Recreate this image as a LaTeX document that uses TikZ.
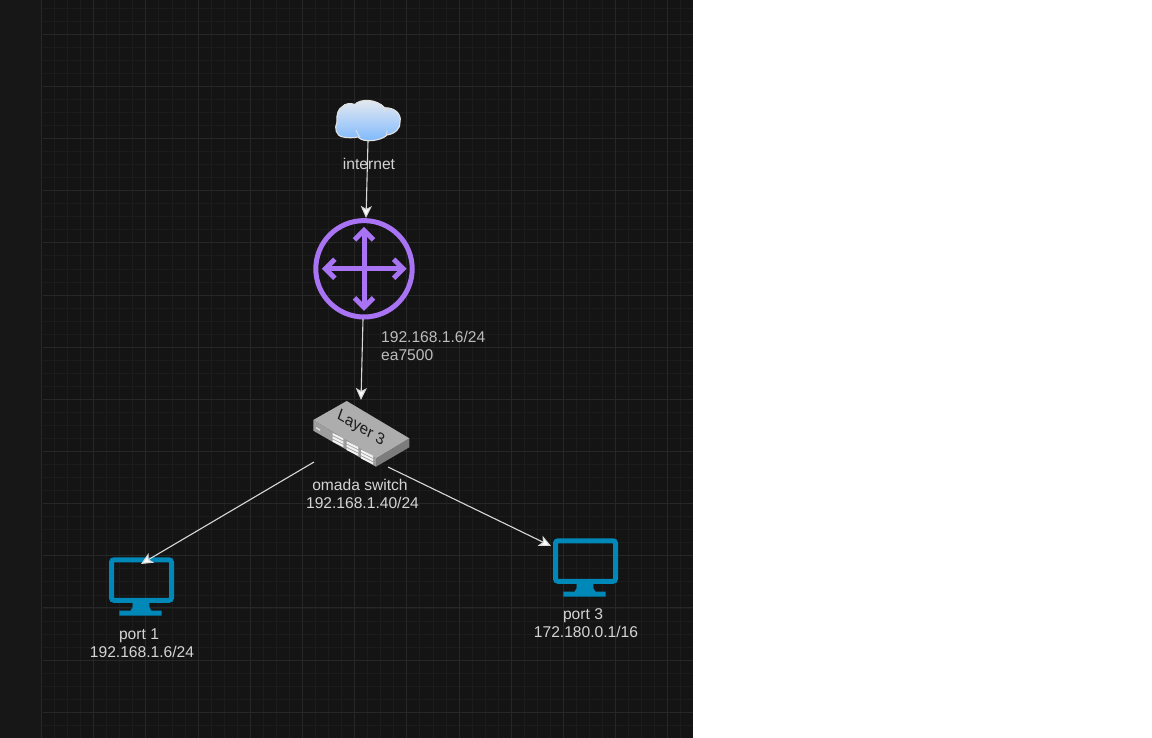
\documentclass[tikz,border=0pt]{standalone}
\usepackage{fontspec}
\setmainfont{Liberation Sans}
\usetikzlibrary{arrows.meta}
\definecolor{panel}{HTML}{141414}
\definecolor{strip}{HTML}{171717}
\definecolor{gridminor}{HTML}{1C1C1C}
\definecolor{gridmajor}{HTML}{272727}
\definecolor{edgeline}{HTML}{D8D8D8}
\definecolor{labeltext}{HTML}{D4D4D4}
\definecolor{labeldim}{HTML}{BDBDBD}
\definecolor{routerc}{HTML}{A874F4}
\definecolor{monitorc}{HTML}{0088B9}
\definecolor{cloudtop}{HTML}{E8EBEF}
\definecolor{cloudbot}{HTML}{78B6FF}
\definecolor{cloudedge}{HTML}{E2E2E2}
\definecolor{swtop}{HTML}{ADADAD}
\definecolor{swleft}{HTML}{9E9E9E}
\definecolor{swright}{HTML}{7C7C7C}
\definecolor{swport}{HTML}{F2F2F2}
\definecolor{swtext}{HTML}{1C1C1C}
\tikzset{
  x=1pt,y=-1pt,
  link/.style={draw=edgeline,line width=1.1pt,-{Stealth[length=12pt,width=11pt,inset=3pt,fill=white]}},
  lbl/.style={text=labeltext,font=\fontsize{15.6}{18}\selectfont,inner sep=0pt,align=center},
  rline/.style={draw=routerc,line width=5pt,line cap=butt,line join=miter},
  screen/.style={draw=monitorc,line width=5pt,rounded corners=2.5pt},
  stand/.style={fill=monitorc},
}
\begin{document}
\begin{tikzpicture}
\useasboundingbox (0,0) rectangle (1152,738);
\fill[white] (0,0) rectangle (1152,738);
\fill[panel] (0,0) rectangle (693,738);
\fill[strip] (0,0) rectangle (41,738);
% grid
\foreach \i in {0,...,49}{
  \pgfmathsetmacro{\gx}{floor(41.5+13.05*\i)+0.5}
  \draw[gridminor,line width=1pt] (\gx,0) -- (\gx,738);
}
\foreach \i in {-2,...,53}{
  \pgfmathsetmacro{\gy}{floor(34.3+13.04*\i)+0.5}
  \draw[gridminor,line width=1pt] (43,\gy) -- (693,\gy);
}
\foreach \i in {0,...,12}{
  \pgfmathsetmacro{\gx}{floor(41.5+52.2*\i)+0.5}
  \draw[gridmajor,line width=1pt] (\gx,0) -- (\gx,738);
}
\foreach \i in {0,...,13}{
  \pgfmathsetmacro{\gy}{floor(34.3+52.15*\i)+0.5}
  \draw[gridmajor,line width=1pt] (43,\gy) -- (693,\gy);
}
% cloud
\shade[top color=cloudtop,bottom color=cloudbot,draw=cloudedge,line width=1.1pt]
  (343,137) .. controls (336,136) and (334,128) .. (337,122)
  .. controls (336,114) and (339,108) .. (342,107)
  .. controls (345,103) and (351,103) .. (355,104.5)
  .. controls (359,99) and (376,98) .. (385,108)
  .. controls (394,107) and (402,114) .. (400,122)
  .. controls (401,128) and (395,134) .. (387,135)
  .. controls (383,140) and (364,144) .. (358,137)
  .. controls (353,138) and (348,138) .. (343,137) -- cycle;
\draw[cloudedge,line width=0.8pt] (356,130) .. controls (357,133) and (358,135) .. (360,137)
  (386,107) .. controls (386,109) and (385,110) .. (384,112)
  (387,130) .. controls (387,132) and (387,134) .. (386,136);
\coordinate (cloudout) at (368,141);
\coordinate (routerin) at (366,218);
\node[lbl] (internet) at (369,164) {internet};
% router
\coordinate (rc) at (364,268.8);
\draw[routerc,line width=5pt] (rc) circle[radius=48.2];
\draw[rline] (364,230.4) -- (364,307.4) (325.4,268.8) -- (403.1,268.8);
\draw[rline] (354.5,239.9) -- (364,230.4) -- (373.5,239.9);
\draw[rline] (354.5,297.9) -- (364,307.4) -- (373.5,297.9);
\draw[rline] (334.9,259.3) -- (325.4,268.8) -- (334.9,278.3);
\draw[rline] (393.6,259.3) -- (403.1,268.8) -- (393.6,278.3);
\coordinate (routerout) at (363,319);
\coordinate (switchin) at (361,400);
\node[lbl,align=left,anchor=north west,text=labeldim] (ealabel) at (381,331) {192.168.1.6/24\\ea7500};
% switch
\fill[swleft] (313.3,420) -- (376,458.3) -- (376,466.7) -- (313.3,430.7) -- cycle;
\fill[swright] (376,458.3) -- (409.3,438.3) -- (409.3,447.3) -- (376,466.7) -- cycle;
\fill[swtop] (313.3,420) -- (346.7,401) -- (409.3,438.3) -- (376,458.3) -- cycle;
\foreach \px/\py/\pw in {332.7/433/10.6,346.7/441.3/11.6,361/449.7/12}{
  \foreach \k in {0,1,2}{
    \fill[swport] (\px,\py+\k*3.3) -- (\px+\pw,\py+0.5*\pw+\k*3.3) -- (\px+\pw,\py+0.5*\pw+2.2+\k*3.3) -- (\px,\py+2.2+\k*3.3) -- cycle;
  }
}
\fill[swport!80!swleft] (316,427) -- (320,429.3) -- (320,430.8) -- (316,428.5) -- cycle;
\begin{scope}[shift={(359.5,432.2)},cm={0.88,-0.52,0.35,0.95,(0,0)}]
  \node[text=swtext,font=\fontsize{15.6}{18}\selectfont,inner sep=0pt,anchor=base,transform shape] (swname) at (0,0) {Layer 3};
\end{scope}
\coordinate (switchleft) at (314,462);
\coordinate (switchright) at (388,467);
\node[lbl] (swlabel) at (362.5,494) {omada switch\hspace*{5pt}\\192.168.1.40/24};
% monitors
\foreach \dx/\dy/\nm in {0/0/a,444/-19/b}{
  \begin{scope}[shift={(\dx,\dy)}]
    \draw[screen] (111.5,559.8) rectangle (171.5,600.3);
    \fill[stand] (132.7,602) -- (149.3,602) -- (149.3,607) -- (151.5,610.7) -- (161.7,610.7) -- (161.7,615.7) -- (119.3,615.7) -- (119.3,610.7) -- (130.5,610.7) -- (132.7,607) -- cycle;
  \end{scope}
}
\coordinate (mon1) at (141,564);
\coordinate (mon3) at (551,546);
\node[lbl] (p1label) at (142,643) {port 1\hspace*{6pt}\\192.168.1.6/24};
\node[lbl] (p3label) at (586,623) {port 3\hspace*{6pt}\\172.180.0.1/16};
% connectors
\draw[link] (cloudout) -- (routerin);
\draw[link] (routerout) -- (switchin);
\draw[link] (switchleft) -- (mon1);
\draw[link] (switchright) -- (mon3);
\end{tikzpicture}
\end{document}
